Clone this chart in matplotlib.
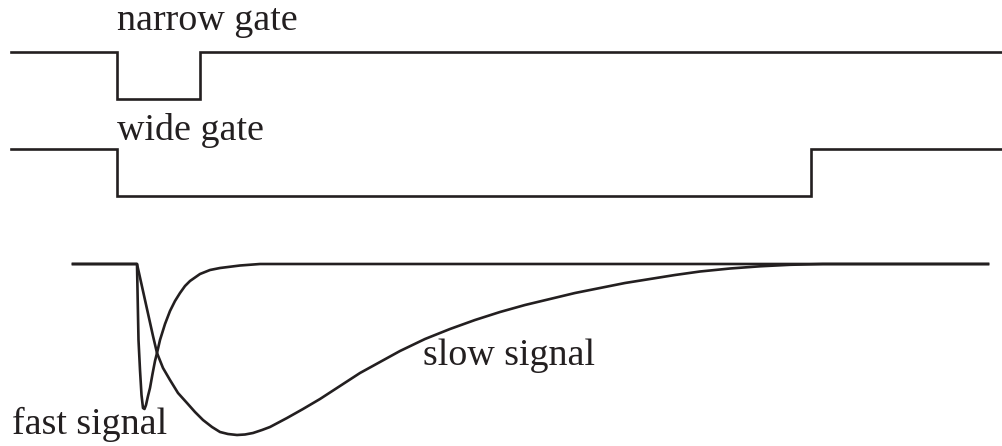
import numpy as np
import matplotlib.pyplot as plt

# --- gate timing (horizontal units = screen time, 0..1003) ---
trace_start = 11
trace_end = 1003
narrow_gate = (117, 200)      # gate open -> close
wide_gate = (117, 811)

# --- signals: time and depth below baseline ---
fast_t = [73, 137, 137.7, 138.5, 140, 141.5, 143, 144.5, 146, 148, 150, 152.5, 155, 157,
          160, 165, 170, 175, 180, 185, 190, 200, 210, 220, 240, 260, 988]
fast_depth = [0, 0, 36, 76, 106, 131, 144, 145, 141, 132, 124, 110, 97, 89,
              76, 60, 47, 37, 29, 22, 17, 10, 6, 4, 1.5, 0, 0]

slow_t = [73, 137, 141, 145, 149, 153, 157, 163, 170, 178, 187, 195, 203, 212, 220, 228,
          237, 245, 253, 262, 270, 287, 303, 320, 340, 360, 380, 400, 425, 450, 475,
          500, 525, 550, 575, 600, 625, 650, 675, 700, 730, 760, 790, 823, 988]
slow_depth = [0, 0, 18, 36, 54, 72, 89, 104, 116, 129, 139, 148, 156, 163, 168, 170,
              171, 170.5, 169, 166, 163, 154, 145, 135, 122, 109, 98, 87, 75, 65, 56,
              48, 41, 35, 29, 24, 19, 15, 11, 7.5, 4.5, 2.3, 0.8, 0, 0]

labels = ["narrow gate", "wide gate", "slow signal", "fast signal"]

INK = "#231f20"
LW = 1.9


def gate_trace(t0, t1, edges):
    t = [t0, edges[0], edges[0], edges[1], edges[1], t1]
    lvl = [1, 1, 0, 0, 1, 1]
    return np.array(t), np.array(lvl)


fig = plt.figure(figsize=(10.03, 4.46), dpi=100)
ax = fig.add_axes([0, 0, 1, 1])
ax.set_xlim(0, 1003)
ax.set_ylim(446, 0)
ax.axis("off")

# gates: high level y, drop height
for edges, y_hi in [(narrow_gate, 52), (wide_gate, 149)]:
    t, lvl = gate_trace(trace_start, trace_end, edges)
    ax.plot(t, y_hi + (1 - lvl) * 47, color=INK, lw=LW, solid_joinstyle="miter")

# signals hang from baseline
base = 264
ax.plot(slow_t, base + np.array(slow_depth), color=INK, lw=LW, solid_joinstyle="round")
ax.plot(fast_t, base + np.array(fast_depth), color=INK, lw=LW, solid_joinstyle="round")

font = dict(family="Liberation Serif", fontsize=27.4, color=INK, va="baseline", ha="left")
ax.text(117, 30, labels[0], **font)
ax.text(117, 140, labels[1], **font)
ax.text(423, 365, labels[2], **font)
ax.text(12, 434, labels[3], **font)

fig.savefig("out.png", dpi=100)
